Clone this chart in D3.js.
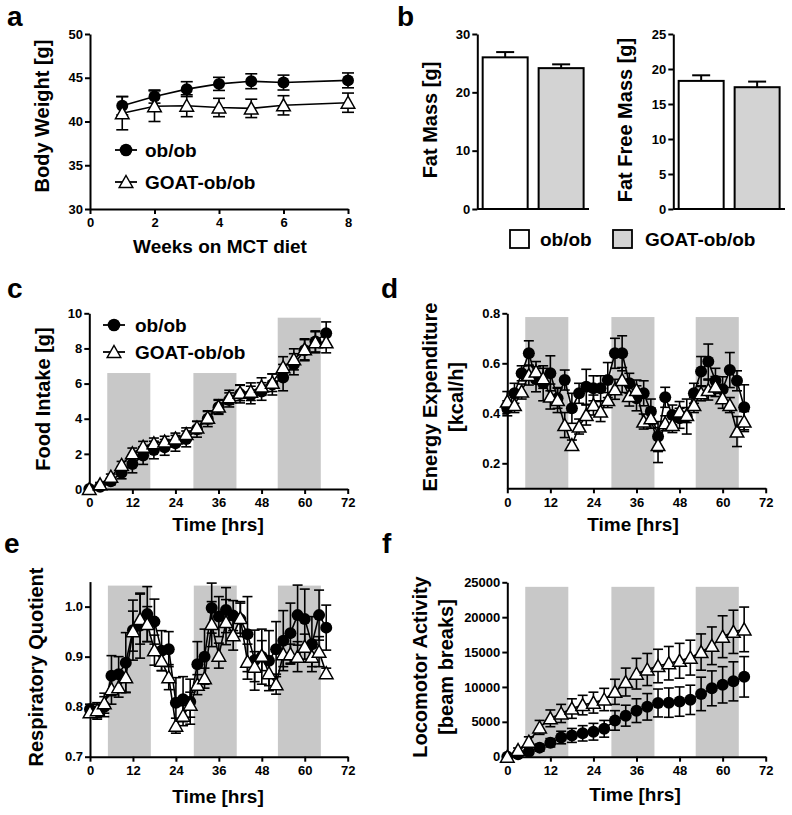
<!DOCTYPE html>
<html><head><meta charset="utf-8">
<script src="https://cdn.jsdelivr.net/npm/d3@7"></script>
<style>
body{margin:0;background:#fff;}
text{font-family:"Liberation Sans",Arial,sans-serif;font-weight:bold;fill:#000;}
</style></head>
<body><svg id="fig" width="792" height="815"></svg>
<script>
// ---------- DATA ----------
const groups = ["ob/ob", "GOAT-ob/ob"];
const weeks = [1, 2, 3, 4, 5, 6, 8];
const bwOb = [41.8, 42.85, 43.7, 44.3, 44.6, 44.45, 44.7];
const bwObErr = [1.05, 0.75, 0.85, 0.75, 0.85, 0.85, 0.85];
const bwGoat = [40.95, 41.75, 41.8, 41.6, 41.5, 41.85, 42.15];
const bwGoatErr = [1.9, 1.75, 1.25, 1.05, 1.05, 1.1, 1.1];

const fatMass = [26.0, 24.15];
const fatMassErr = [0.9, 0.65];
const fatFreeMass = [18.3, 17.4];
const fatFreeMassErr = [0.8, 0.8];

const hours3 = [0,3,6,9,12,15,18,21,24,27,30,33,36,39,42,45,48,51,54,57,60,63,66];
const hours2 = [0,2,4,6,8,10,12,14,16,18,20,22,24,26,28,30,32,34,36,38,40,42,44,46,48,50,52,54,56,58,60,62,64,66];
const darkPeriods = [[5, 17], [29, 41], [52.5, 64.5]];

const fiOb = [0, 0.13, 0.44, 0.93, 1.42, 1.9, 2.22, 2.37, 2.6, 2.85, 3.4, 4.0, 4.65, 5.07, 5.4, 5.35, 5.55, 5.95, 6.34, 7.1, 7.9, 8.4, 8.86];
const fiObErr = [0.05, 0.1, 0.2, 0.35, 0.5, 0.5, 0.5, 0.45, 0.45, 0.45, 0.45, 0.45, 0.4, 0.4, 0.5, 0.5, 0.5, 0.6, 0.75, 0.6, 0.6, 0.6, 0.65];
const fiGoat = [0, 0.27, 0.7, 1.37, 2.03, 2.41, 2.6, 2.7, 2.88, 3.13, 3.5, 4.06, 4.69, 5.22, 5.48, 5.54, 5.83, 6.05, 6.93, 7.38, 7.95, 8.35, 8.35];
const fiGoatErr = [0.05, 0.1, 0.15, 0.2, 0.3, 0.3, 0.3, 0.3, 0.3, 0.35, 0.35, 0.35, 0.4, 0.4, 0.45, 0.5, 0.5, 0.5, 0.6, 0.6, 0.6, 0.6, 0.6];
const fiShadeTop = [6.6, 6.6, 9.75];

const eeOb = [0.42,0.48,0.56,0.64,0.536,0.52,0.56,0.46,0.533,0.42,0.48,0.506,0.50,0.50,0.533,0.64,0.64,0.52,0.46,0.48,0.407,0.307,0.464,0.393,0.38,0.387,0.48,0.567,0.607,0.53,0.496,0.573,0.53,0.424];
const eeObErr = [0.03,0.04,0.03,0.05,0.05,0.07,0.07,0.04,0.04,0.06,0.04,0.07,0.05,0.05,0.07,0.06,0.07,0.04,0.05,0.05,0.05,0.06,0.04,0.04,0.04,0.07,0.04,0.06,0.07,0.05,0.05,0.07,0.04,0.09];
const eeGoat = [0.447,0.433,0.487,0.553,0.567,0.54,0.467,0.453,0.353,0.273,0.347,0.393,0.433,0.407,0.453,0.496,0.533,0.469,0.493,0.367,0.38,0.273,0.36,0.353,0.407,0.393,0.433,0.48,0.493,0.507,0.46,0.433,0.327,0.367];
const eeGoatErr = [0.04,0.03,0.03,0.04,0.04,0.04,0.05,0.05,0.05,0.02,0.03,0.04,0.04,0.04,0.03,0.04,0.05,0.04,0.04,0.03,0.04,0.07,0.03,0.03,0.04,0.03,0.03,0.03,0.04,0.04,0.04,0.03,0.06,0.04];
const eeShadeTop = [0.785, 0.785, 0.785];

const rqOb = [0.795,0.79,0.80,0.862,0.865,0.888,0.953,0.962,0.985,0.97,0.912,0.915,0.808,0.815,0.81,0.885,0.90,0.997,0.98,0.993,0.982,0.975,0.945,0.893,0.90,0.892,0.915,0.932,0.947,0.983,0.975,0.925,0.983,0.958];
const rqObErr = [0.01,0.015,0.02,0.04,0.035,0.06,0.06,0.065,0.055,0.045,0.04,0.035,0.05,0.045,0.045,0.045,0.055,0.05,0.04,0.045,0.03,0.035,0.075,0.06,0.055,0.06,0.055,0.06,0.06,0.06,0.06,0.055,0.05,0.045];
const rqGoat = [0.789,0.793,0.807,0.835,0.839,0.859,0.951,0.975,0.965,0.913,0.892,0.859,0.762,0.782,0.804,0.844,0.857,0.965,0.902,0.969,0.943,0.977,0.89,0.88,0.902,0.867,0.845,0.905,0.905,0.90,0.92,0.90,0.91,0.867];
const rqGoatErr = [0.01,0.015,0.02,0.03,0.02,0.03,0.04,0.05,0.035,0.03,0.02,0.025,0.015,0.02,0.025,0.02,0.02,0.045,0.025,0.045,0.03,0.03,0.035,0.03,0.03,0.025,0.02,0.025,0.02,0.03,0.025,0.02,0.03,0.01];
const rqShadeTop = [1.042, 1.042, 1.042];

const laOb = [0, 350, 700, 1300, 2000, 2750, 3050, 3350, 3580, 4000, 5200, 5880, 6600, 7150, 7700, 7750, 7900, 8150, 9000, 9800, 10300, 10800, 11450];
const laObErr = [100, 200, 300, 500, 600, 900, 1000, 1100, 1200, 1200, 1400, 1500, 1700, 1900, 2000, 2100, 2100, 2100, 2400, 2500, 2600, 2800, 2900];
const laGoat = [0, 950, 2150, 4200, 5500, 6200, 6900, 7400, 7750, 8200, 9300, 10700, 11900, 12500, 13000, 13400, 13750, 14200, 15000, 15900, 17200, 17900, 18250];
const laGoatErr = [100, 300, 700, 1000, 1200, 1300, 1400, 1400, 1500, 1600, 1800, 2000, 2200, 2300, 2400, 2400, 2500, 2500, 2600, 2700, 3000, 3100, 3200];
const laShadeTop = [24350, 24350, 24350];

const hourTicks = [0, 12, 24, 36, 48, 60, 72];

// ---------- DRAWING ----------
const svg = d3.select("#fig");
const SHADE = "#c8c8c8", BARGRAY = "#d3d3d3";
const triPath = "M0,-6.5L6.8,5.5L-6.8,5.5Z";

function styleAxis(g, fs) {
  g.select(".domain").attr("stroke", "#000").attr("stroke-width", 2);
  g.selectAll(".tick line").attr("stroke", "#000").attr("stroke-width", 2);
  g.selectAll(".tick text").style("font-size", fs + "px").style("font-weight", "bold")
    .style("font-family", '"Liberation Sans",Arial,sans-serif');
}
function axes(g, x, y, xt, yt, yfmt) {
  const gx = g.append("g").attr("transform", `translate(0,${y.range()[0]})`)
    .call(d3.axisBottom(x).tickValues(xt).tickSize(5).tickSizeOuter(0).tickPadding(4).tickFormat(d3.format("d")));
  styleAxis(gx, 13);
  const gy = g.append("g").attr("transform", `translate(${x.range()[0]},0)`)
    .call(d3.axisLeft(y).tickValues(yt).tickSize(5).tickSizeOuter(0).tickPadding(2).tickFormat(yfmt));
  styleAxis(gy, 13);
}
function ylabel(lines, x, cy) {
  lines.forEach(([t, bx]) => {
    svg.append("text").attr("transform", `translate(${bx},${cy}) rotate(-90)`)
      .attr("text-anchor", "middle").style("font-size", "20px").text(t);
  });
}
function xlabel(t, cx, by) {
  svg.append("text").attr("x", cx).attr("y", by).attr("text-anchor", "middle")
    .style("font-size", "19px").text(t);
}
function series(g, x, y, xs, vals, errs, kind, cap) {
  const pts = xs.map((t, i) => ({t, v: vals[i], e: errs[i]}));
  const eg = g.append("g").attr("stroke", "#000").attr("stroke-width", 1.6);
  pts.forEach(p => {
    const y1 = y(p.v + p.e), y2 = y(p.v - p.e), cx = x(p.t);
    eg.append("line").attr("x1", cx).attr("x2", cx).attr("y1", y1).attr("y2", y2);
    eg.append("line").attr("x1", cx - cap / 2).attr("x2", cx + cap / 2).attr("y1", y1).attr("y2", y1);
    eg.append("line").attr("x1", cx - cap / 2).attr("x2", cx + cap / 2).attr("y1", y2).attr("y2", y2);
  });
  g.append("path").datum(pts).attr("fill", "none").attr("stroke", "#000").attr("stroke-width", 1.6)
    .attr("d", d3.line().x(p => x(p.t)).y(p => y(p.v)));
  if (kind === "circle") {
    g.selectAll(null).data(pts).enter().append("circle")
      .attr("cx", p => x(p.t)).attr("cy", p => y(p.v)).attr("r", 6).attr("fill", "#000");
  } else {
    g.selectAll(null).data(pts).enter().append("path").attr("d", triPath)
      .attr("transform", p => `translate(${x(p.t)},${y(p.v)})`)
      .attr("fill", "#fff").attr("stroke", "#000").attr("stroke-width", 1.5);
  }
}
function legendLine(x0, x1, yy, kind, label, tx) {
  svg.append("line").attr("x1", x0).attr("x2", x1).attr("y1", yy).attr("y2", yy)
    .attr("stroke", "#000").attr("stroke-width", 1.8);
  const cx = (x0 + x1) / 2;
  if (kind === "circle") svg.append("circle").attr("cx", cx).attr("cy", yy).attr("r", 6.3).attr("fill", "#000");
  else svg.append("path").attr("d", triPath).attr("transform", `translate(${cx},${yy})`)
    .attr("fill", "#fff").attr("stroke", "#000").attr("stroke-width", 1.5);
  svg.append("text").attr("x", tx).attr("y", yy).attr("dy", "0.36em").style("font-size", "19px").text(label);
}
function letter(t, x, y) {
  svg.append("text").attr("x", x).attr("y", y).style("font-size", "28px").text(t);
}

// Panel a
{
  const x = d3.scaleLinear().domain([0, 8]).range([90, 348]);
  const y = d3.scaleLinear().domain([30, 50]).range([209, 34]);
  const g = svg.append("g");
  axes(g, x, y, [0, 2, 4, 6, 8], [30, 35, 40, 45, 50], d3.format("d"));
  series(g, x, y, weeks, bwOb, bwObErr, "circle", 12);
  series(g, x, y, weeks, bwGoat, bwGoatErr, "tri", 12);
  ylabel([["Body Weight [g]", 49]], 0, 116);
  xlabel("Weeks on MCT diet", 220, 253);
  legendLine(115, 137, 150, "circle", groups[0], 145);
  legendLine(115, 137, 182, "tri", groups[1], 145);
  letter("a", 7, 26);
}

// Panel b
function barPanel(x0, x1, ymax, yt, vals, errs, lab, lx) {
  const x = d3.scaleBand().domain(groups).range([x0, x1]).paddingInner(0.196).paddingOuter(0.096);
  const y = d3.scaleLinear().domain([0, ymax]).range([209, 34]);
  const g = svg.append("g");
  groups.forEach((gname, i) => {
    const cx = x(gname) + x.bandwidth() / 2, yt1 = y(vals[i] + errs[i]);
    g.append("line").attr("x1", cx).attr("x2", cx).attr("y1", y(vals[i])).attr("y2", yt1).attr("stroke", "#000").attr("stroke-width", 2);
    g.append("line").attr("x1", cx - 9).attr("x2", cx + 9).attr("y1", yt1).attr("y2", yt1).attr("stroke", "#000").attr("stroke-width", 2);
    g.append("rect").attr("x", x(gname)).attr("width", x.bandwidth()).attr("y", y(vals[i]))
      .attr("height", y(0) - y(vals[i])).attr("fill", i === 0 ? "#fff" : BARGRAY).attr("stroke", "#000").attr("stroke-width", 2);
  });
  const gy = g.append("g").attr("transform", `translate(${x0},0)`)
    .call(d3.axisLeft(y).tickValues(yt).tickSize(5).tickSizeOuter(0).tickPadding(2).tickFormat(d3.format("d")));
  styleAxis(gy, 13);
  g.append("line").attr("x1", x0).attr("x2", x1).attr("y1", y(0)).attr("y2", y(0)).attr("stroke", "#000").attr("stroke-width", 2);
  ylabel([[lab, lx]], 0, 120);
}
barPanel(477.3, 589, 30, [0, 10, 20, 30], fatMass, fatMassErr, "Fat Mass [g]", 437);
barPanel(673.3, 785, 25, [0, 5, 10, 15, 20, 25], fatFreeMass, fatFreeMassErr, "Fat Free Mass [g]", 632);
// legend b
[[510, "#fff", groups[0], 540], [613, BARGRAY, groups[1], 645]].forEach(([bx, fill, t, tx]) => {
  svg.append("rect").attr("x", bx).attr("y", 230).attr("width", 19).attr("height", 18)
    .attr("fill", fill).attr("stroke", "#000").attr("stroke-width", 1.8);
  svg.append("text").attr("x", tx).attr("y", 239).attr("dy", "0.36em").style("font-size", "19px").text(t);
});
letter("b", 397, 26);

// Time panels
function timePanel(o) {
  const x = d3.scaleLinear().domain([0, 72]).range(o.xr);
  const y = d3.scaleLinear().domain(o.ydom).range(o.yr);
  const g = svg.append("g");
  darkPeriods.forEach(([a, b], i) => {
    g.append("rect").attr("x", x(a)).attr("width", x(b) - x(a))
      .attr("y", y(o.shadeTop[i])).attr("height", y(o.ydom[0]) - y(o.shadeTop[i])).attr("fill", SHADE);
  });
  axes(g, x, y, hourTicks, o.yt, o.yfmt);
  series(g, x, y, o.hours, o.ob, o.obErr, "circle", 10);
  series(g, x, y, o.hours, o.goat, o.goatErr, "tri", 10);
}
timePanel({xr: [89.3, 347.7], yr: [489, 313.3], ydom: [0, 10], yt: [0, 2, 4, 6, 8, 10], yfmt: d3.format("d"),
  shadeTop: fiShadeTop, hours: hours3, ob: fiOb, obErr: fiObErr, goat: fiGoat, goatErr: fiGoatErr});
ylabel([["Food Intake [g]", 49.5]], 0, 399);
xlabel("Time [hrs]", 218, 531);
legendLine(103, 125, 325, "circle", groups[0], 135);
legendLine(103, 125, 352, "tri", groups[1], 135);
letter("c", 7, 298);

timePanel({xr: [507.3, 765.7], yr: [488.3, 313.3], ydom: [0.1, 0.8], yt: [0.2, 0.4, 0.6, 0.8], yfmt: d3.format(".1f"),
  shadeTop: eeShadeTop, hours: hours2, ob: eeOb, obErr: eeObErr, goat: eeGoat, goatErr: eeGoatErr});
ylabel([["Energy Expenditure", 437], ["[kcal/h]", 463]], 0, 397);
xlabel("Time [hrs]", 633, 531);
letter("d", 381, 298);

timePanel({xr: [90, 347.7], yr: [756.7, 581.6], ydom: [0.7, 1.05], yt: [0.7, 0.8, 0.9, 1.0], yfmt: d3.format(".1f"),
  shadeTop: rqShadeTop, hours: hours2, ob: rqOb, obErr: rqObErr, goat: rqGoat, goatErr: rqGoatErr});
ylabel([["Respiratory Quotient", 43]], 0, 667);
xlabel("Time [hrs]", 218, 803);
letter("e", 4, 553);

timePanel({xr: [507.3, 765.7], yr: [756.7, 582.3], ydom: [0, 25000], yt: [0, 5000, 10000, 15000, 20000, 25000], yfmt: d3.format("d"),
  shadeTop: laShadeTop, hours: hours3, ob: laOb, obErr: laObErr, goat: laGoat, goatErr: laGoatErr});
ylabel([["Locomotor Activity", 426.5], ["[beam breaks]", 452.5]], 0, 667);
xlabel("Time [hrs]", 635, 801);
letter("f", 382, 553);
</script></body></html>
